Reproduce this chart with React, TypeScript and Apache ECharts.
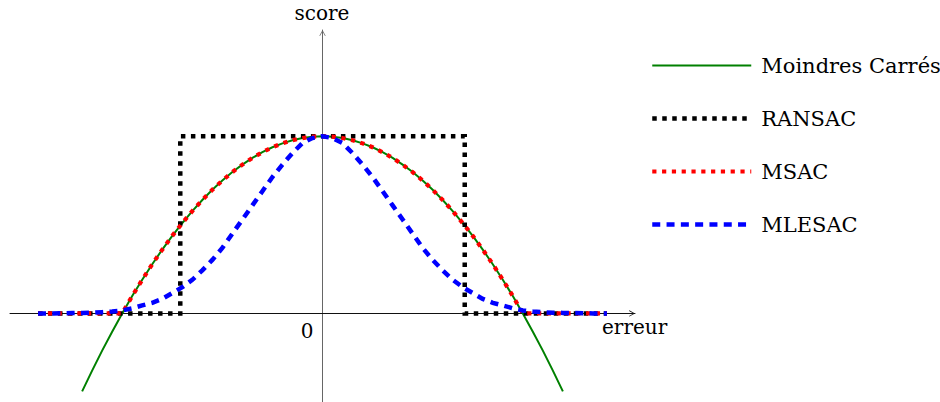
import React, { useEffect, useRef } from "react";
import * as echarts from "echarts";

// erreur (x) values shared by the curves
const erreur = [
  -1.42, -1.35, -1.3, -1.25, -1.2, -1.15, -1.1, -1.05, -1, -0.95, -0.9, -0.85, -0.8, -0.75,
  -0.7, -0.65, -0.6, -0.55, -0.5, -0.45, -0.4, -0.35, -0.3, -0.25, -0.2, -0.15, -0.1, -0.05,
  0,
  0.05, 0.1, 0.15, 0.2, 0.25, 0.3, 0.35, 0.4, 0.45, 0.5, 0.55, 0.6, 0.65, 0.7,
  0.75, 0.8, 0.85, 0.9, 0.95, 1, 1.05, 1.1, 1.15, 1.2, 1.25, 1.3, 1.35, 1.42,
];

// Moindres Carrés score (null where not drawn)
const moindresCarres: (number | null)[] = [
  null, null, null, null, -0.44, -0.323, -0.21, -0.103, 0, 0.098, 0.19, 0.278, 0.36, 0.438,
  0.51, 0.578, 0.64, 0.698, 0.75, 0.798, 0.84, 0.878, 0.91, 0.938, 0.96, 0.978, 0.99, 0.998,
  1,
  0.998, 0.99, 0.978, 0.96, 0.938, 0.91, 0.878, 0.84, 0.798, 0.75, 0.698, 0.64, 0.578, 0.51,
  0.438, 0.36, 0.278, 0.19, 0.098, 0, -0.103, -0.21, -0.323, -0.44, null, null, null, null,
];

// MSAC score
const msac = [
  0, 0, 0, 0, 0, 0, 0, 0, 0, 0.098, 0.19, 0.278, 0.36, 0.438,
  0.51, 0.578, 0.64, 0.698, 0.75, 0.798, 0.84, 0.878, 0.91, 0.938, 0.96, 0.978, 0.99, 0.998,
  1,
  0.998, 0.99, 0.978, 0.96, 0.938, 0.91, 0.878, 0.84, 0.798, 0.75, 0.698, 0.64, 0.578, 0.51,
  0.438, 0.36, 0.278, 0.19, 0.098, 0, 0, 0, 0, 0, 0, 0, 0, 0,
];

// MLESAC score
const mlesac = [
  0, 0, 0.001, 0.002, 0.003, 0.004, 0.007, 0.011, 0.017, 0.029, 0.045, 0.06, 0.082, 0.115,
  0.148, 0.19, 0.243, 0.302, 0.37, 0.45, 0.53, 0.61, 0.69, 0.77, 0.84, 0.905, 0.962, 0.99,
  1,
  0.99, 0.962, 0.905, 0.84, 0.77, 0.69, 0.61, 0.53, 0.45, 0.37, 0.302, 0.243, 0.19, 0.148,
  0.115, 0.082, 0.06, 0.045, 0.029, 0.017, 0.011, 0.007, 0.004, 0.003, 0.002, 0.001, 0, 0,
];

// RANSAC step function
const ransacX = [-1.42, -0.71, -0.71, 0.71, 0.71, 1.42];
const ransacY = [0, 0, 1, 1, 0, 0];

const seriesNames = ["Moindres Carrés", "RANSAC", "MSAC", "MLESAC"];
const axisNames = { x: "erreur", y: "score", origin: "0" };

const FONT = "'DejaVu Serif', serif";

const pairs = (xs: number[], ys: (number | null)[]) =>
  xs.map((x, i) => [x, ys[i]]).filter((p) => p[1] !== null);

const arrowPath = "path://M0,9 L5,0 L10,9 L9,9.6 L5,2.4 L1,9.6 Z";

export default function App() {
  const ref = useRef<HTMLDivElement>(null);
  useEffect(() => {
    if (!ref.current) return;
    const chart = echarts.init(ref.current, undefined, { renderer: "svg" });
    const styles = [
      { color: "#008000", width: 2, type: "solid" as any },
      { color: "#000000", width: 4.5, type: [4.5, 5.5] },
      { color: "#ff0000", width: 4.2, type: [4.2, 5.6] },
      { color: "#0000ff", width: 4.5, type: [8, 6.3] },
    ];
    const datas = [
      pairs(erreur, moindresCarres),
      pairs(ransacX, ransacY),
      pairs(erreur, msac),
      pairs(erreur, mlesac),
    ];
    chart.setOption({
      animation: false,
      grid: { left: 10, width: 625, top: 30, height: 372.75 },
      xAxis: {
        type: "value",
        min: -1.56,
        max: 1.56,
        axisLine: {
          onZero: true,
          lineStyle: { color: "#111", width: 1 },
          symbol: ["none", arrowPath],
          symbolSize: [7, 6],
          symbolOffset: [0, -3],
        },
        axisTick: { show: false },
        axisLabel: { show: false },
        splitLine: { show: false },
      },
      yAxis: {
        type: "value",
        min: -0.5,
        max: 1.6,
        axisLine: {
          onZero: true,
          lineStyle: { color: "#666", width: 1 },
          symbol: ["none", arrowPath],
          symbolSize: [7, 6],
          symbolOffset: [0, -3],
        },
        axisTick: { show: false },
        axisLabel: { show: false },
        splitLine: { show: false },
      },
      legend: {
        orient: "vertical",
        left: 650,
        top: 55,
        padding: 0,
        itemWidth: 99,
        itemHeight: 14,
        itemGap: 32,
        textStyle: { fontFamily: FONT, fontSize: 21, color: "#000", padding: [0, 0, 0, 5] },
        data: seriesNames.map((name, i) => ({
          name,
          itemStyle: { opacity: 0, color: "transparent", borderWidth: 0 },
          lineStyle: { width: styles[i].width, type: styles[i].type, color: styles[i].color, cap: "butt" },
        })),
      },
      series: seriesNames.map((name, i) => ({
        name,
        type: "line",
        data: datas[i],
        symbol: "none",
        showSymbol: false,
        smooth: false,
        z: 2 + i,
        lineStyle: {
          color: styles[i].color,
          width: styles[i].width,
          type: styles[i].type,
          cap: "butt",
          join: "miter",
        },
        itemStyle: { color: styles[i].color },
      })),
      graphic: [
        {
          type: "text",
          x: 322,
          y: 12.5,
          style: { text: axisNames.y, font: `20px ${FONT}`, fill: "#000", align: "center", verticalAlign: "middle" },
        },
        {
          type: "text",
          x: 307,
          y: 330.7,
          style: { text: axisNames.origin, font: `20px ${FONT}`, fill: "#000", align: "center", verticalAlign: "middle" },
        },
        {
          type: "text",
          x: 602,
          y: 326.5,
          style: { text: axisNames.x, font: `20px ${FONT}`, fill: "#000", align: "left", verticalAlign: "middle" },
        },
      ],
    });
    return () => chart.dispose();
  }, []);
  return <div ref={ref} style={{ width: 940, height: 402, position: "absolute", left: 0, top: 0 }} />;
}
